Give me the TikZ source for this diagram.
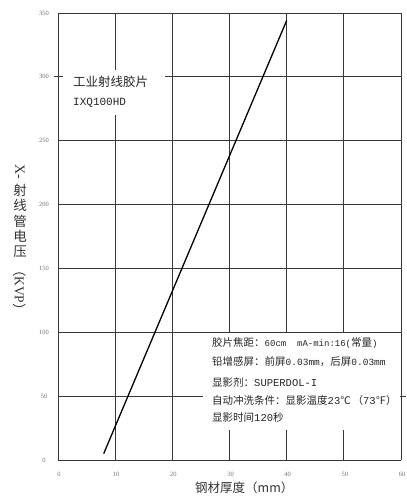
\documentclass[tikz,border=0pt]{standalone}
\usepackage{fontspec}
\setmainfont{Liberation Serif}
\newfontfamily\cjk{Noto Sans CJK SC}
\newfontfamily\monof{Liberation Mono}
\newcommand{\mth}[1]{{\monof\fontsize{9}{10}\selectfont #1}}
\newcommand{\mtk}[1]{{\monof\fontsize{10.5}{11}\selectfont #1}}
\begin{document}
\begin{tikzpicture}[x=1pt,y=-1pt,
  gridline/.style={draw=black!78,line width=0.9pt},
  ticklbl/.style={font=\fontsize{6.5}{7}\selectfont,text=black!55,inner sep=0pt},
  boxtxt/.style={anchor=west,inner sep=0pt,font=\cjk\fontsize{10.5}{12}\selectfont,text=black!85},
  ylbl/.style={inner sep=0pt,font=\cjk\fontsize{13.5}{14}\selectfont,text=black!80},
  curve/.style={draw=black,line width=1.3pt}]
\useasboundingbox (0,0) rectangle (407,501);
\fill[white] (0,0) rectangle (407,501);
% grid
\foreach \i in {0,...,6} { \draw[gridline] ({58+\i*57.1667},13) -- ({58+\i*57.1667},460); }
\foreach \j in {0,...,7} { \draw[gridline] (58,{460-\j*63.857}) -- (401,{460-\j*63.857}); }
% white areas under the texts
\fill[white] (63,70) rectangle (165,115);
\fill[white] (203,333.4) rectangle (400.4,430);
% ticks
\draw[gridline] (54,76.9) -- (58,76.9);
\draw[gridline] (401,396.1) -- (406,396.1);
% tick labels
\foreach \j/\t in {0/0,1/50,2/100,3/150,4/200,5/250,6/300,7/350}
  { \node[ticklbl] (yl\j) at (44,{460-\j*63.857}) {\t}; }
\foreach \i/\t in {0/0,1/10,2/20,3/30,4/40,5/50,6/60}
  { \node[ticklbl] (xl\i) at ({59+\i*57.1667},474) {\t}; }
% curve
\coordinate (p0) at (103.7,453.6);
\coordinate (p1) at (286.7,20.4);
\draw[curve] (p0) -- (p1);
% top text
\node[anchor=west,inner sep=0pt,font=\cjk\fontsize{12.5}{14}\selectfont,text=black!85] (film) at (73,82) {工业射线胶片};
\node[anchor=west,inner sep=0pt,font=\monof\fontsize{11}{12}\selectfont,text=black!85] (model) at (73,103) {IXQ100HD};
% box text
\node[boxtxt] (b1) at (212,343) {胶片焦距：\mth{60cm\ \ mA-min:16(}常量\mth{)}};
\node[boxtxt] (b2) at (212,362) {铅增感屏：前屏{\monof\fontsize{9.5}{10}\selectfont 0.03mm}，后屏{\monof\fontsize{9.5}{10}\selectfont 0.03mm}};
\node[boxtxt] (b3) at (212,382) {显影剂：\mtk{SUPERDOL-I}};
\node[boxtxt] (b4) at (212,401) {自动冲洗条件：显影温度\mtk{23}℃\,（\mtk{73}℉）};
\node[boxtxt] (b5) at (212,418) {显影时间\mtk{120}秒};
% x axis title
\node[anchor=west,inner sep=0pt,font=\cjk\fontsize{12.5}{14}\selectfont,text=black!80] (xtitle) at (195,488) {钢材厚度（mm）};
% y axis title
\node[ylbl,rotate=-90,font=\fontsize{14}{14}\selectfont] (yt0) at (20,172) {X-};
\node[ylbl] (yt1) at (20,190) {射};
\node[ylbl] (yt2) at (20,205.5) {线};
\node[ylbl] (yt3) at (20,221) {管};
\node[ylbl] (yt4) at (20,236.5) {电};
\node[ylbl] (yt5) at (20,252) {压};
\node[ylbl,rotate=-90] (yt6) at (20,290) {（{\fontspec{Liberation Serif}KVP}）};
\end{tikzpicture}
\end{document}
